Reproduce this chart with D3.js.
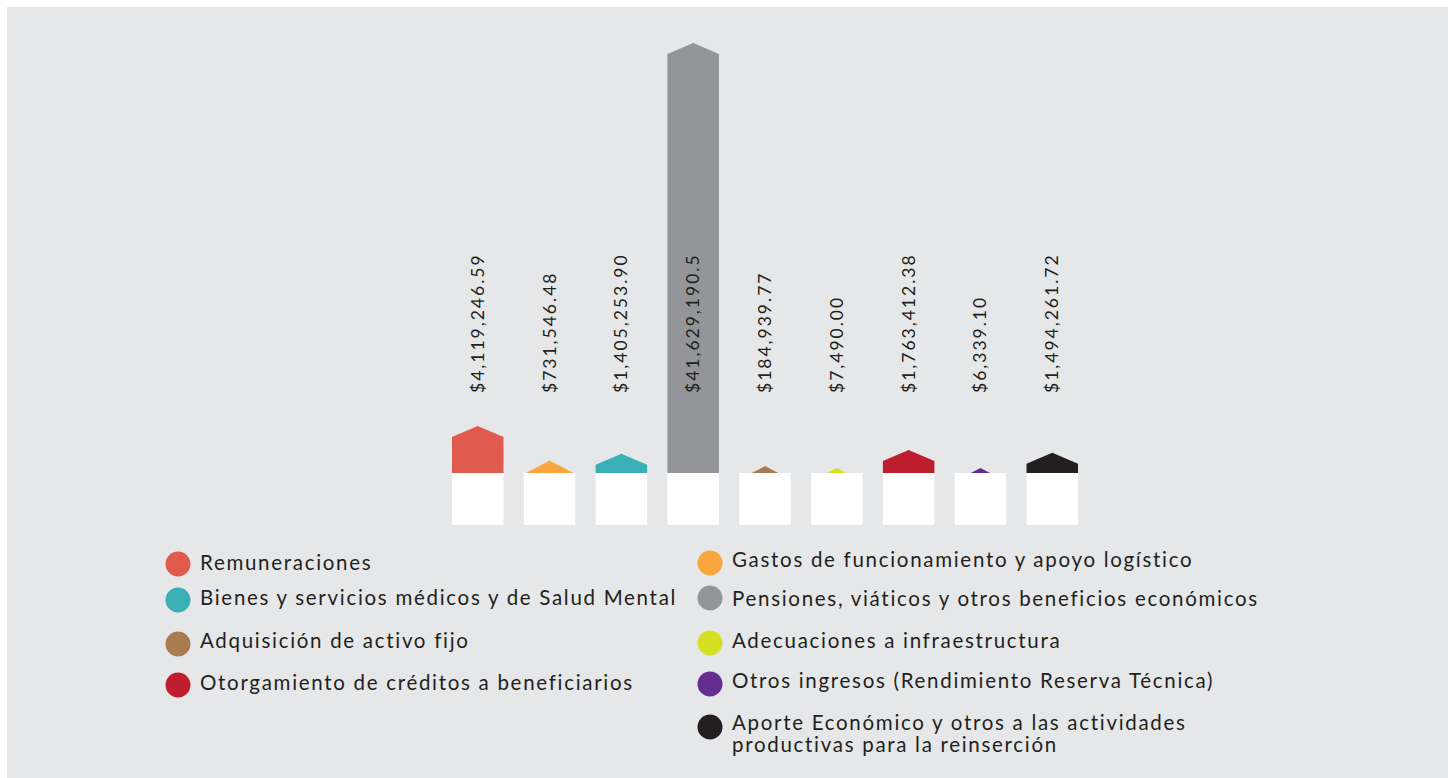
<!DOCTYPE html>
<html>
<head>
<meta charset="utf-8">
<script src="https://cdn.jsdelivr.net/npm/d3@7"></script>
<style>
  html, body { margin: 0; padding: 0; background: #ffffff; }
  svg { display: block; }
  text { font-family: Lato, "Open Sans", "DejaVu Sans", sans-serif; fill: #231f20; }
</style>
</head>
<body>
<svg id="chart" width="1448" height="778"></svg>
<script>
// Budget execution by line item (values in pesos)
const categories = [
  "Remuneraciones",
  "Gastos de funcionamiento y apoyo logístico",
  "Bienes y servicios médicos y de Salud Mental",
  "Pensiones, viáticos y otros beneficios económicos",
  "Adquisición de activo fijo",
  "Adecuaciones a infraestructura",
  "Otorgamiento de créditos a beneficiarios",
  "Otros ingresos (Rendimiento Reserva Técnica)",
  "Aporte Económico y otros a las actividades productivas para la reinserción"
];
const values = [4119246.59, 731546.48, 1405253.90, 41629190.5, 184939.77, 7490.00, 1763412.38, 6339.10, 1494261.72];
const valueLabels = ["$4,119,246.59", "$731,546.48", "$1,405,253.90", "$41,629,190.5", "$184,939.77", "$7,490.00", "$1,763,412.38", "$6,339.10", "$1,494,261.72"];
const colors = ["#e05a4e", "#f9a63c", "#3aafb5", "#939598", "#a97b50", "#d7df23", "#be1e2d", "#662d91", "#231f20"];

// Legend layout: category index per column, in reading order
const legendLeft = [0, 2, 4, 6];
const legendRight = [1, 3, 5, 7, 8];

const svg = d3.select("#chart");

// Light gray panel behind everything
svg.append("rect")
  .attr("x", 7).attr("y", 7)
  .attr("width", 1441).attr("height", 771)
  .attr("fill", "#e6e7e8");

const baseline = 473;
const x = d3.scaleBand()
  .domain(d3.range(categories.length))
  .range([452, 1078])
  .paddingInner(0.283)
  .paddingOuter(0);

// Bar height from value; a small floor keeps tiny amounts visible as a tip
const minTip = 5;
const y = d3.scaleLinear()
  .domain([0, d3.max(values)])
  .range([baseline - minTip, 43]);

const bw = x.bandwidth();
const roofH = 11;

// House-shaped bar: rectangle with a pointed roof; short bars are only a roof
function housePath(i) {
  const x0 = x(i), cx = x0 + bw / 2, top = y(values[i]);
  const h = baseline - top;
  const p = d3.path();
  if (h <= 13.5) {
    const half = Math.min(bw / 2 - 1.5, h * 1.9);
    p.moveTo(cx - half, baseline);
    p.lineTo(cx, top);
    p.lineTo(cx + half, baseline);
    p.closePath();
  } else {
    p.moveTo(x0, baseline);
    p.lineTo(x0, top + roofH);
    p.lineTo(cx, top);
    p.lineTo(x0 + bw, top + roofH);
    p.lineTo(x0 + bw, baseline);
    p.closePath();
  }
  return p.toString();
}

const bars = svg.append("g");
bars.selectAll("path")
  .data(values)
  .join("path")
  .attr("d", (d, i) => housePath(i))
  .attr("fill", (d, i) => colors[i]);

// White plinths under each bar
bars.selectAll("rect.plinth")
  .data(values)
  .join("rect")
  .attr("class", "plinth")
  .attr("x", (d, i) => x(i))
  .attr("y", baseline)
  .attr("width", bw)
  .attr("height", 52)
  .attr("fill", "#ffffff");

// Rotated value labels
svg.append("g")
  .selectAll("text")
  .data(valueLabels)
  .join("text")
  .attr("transform", (d, i) => `translate(${x(i) + bw / 2 + 6},393) rotate(-90)`)
  .attr("font-size", 17.5)
  .attr("font-weight", 400)
  .attr("letter-spacing", 2)
  .text(d => d);

// Legend
const legendRowsLeft = [
  { cy: 564, ty: 570 },
  { cy: 600, ty: 605 },
  { cy: 644, ty: 648 },
  { cy: 685, ty: 690 }
];
const legendRowsRight = [
  { cy: 563, ty: 567 },
  { cy: 598, ty: 606 },
  { cy: 643, ty: 648 },
  { cy: 684, ty: 688 },
  { cy: 727, ty: 730 }
];

function drawLegend(idx, rows, cx, tx) {
  const g = svg.append("g");
  idx.forEach((ci, k) => {
    g.append("circle")
      .attr("cx", cx).attr("cy", rows[k].cy).attr("r", 12.5)
      .attr("fill", colors[ci]);
    const t = g.append("text")
      .attr("x", tx).attr("y", rows[k].ty)
      .attr("font-size", 20.5)
      .attr("letter-spacing", 1.7);
    if (ci === 8) {
      t.append("tspan").attr("x", tx).text("Aporte Económico y otros a las actividades");
      t.append("tspan").attr("x", tx).attr("dy", 22).text("productivas para la reinserción");
    } else {
      t.text(categories[ci]);
    }
  });
}
drawLegend(legendLeft, legendRowsLeft, 178, 200);
drawLegend(legendRight, legendRowsRight, 710, 732);
</script>
</body>
</html>
